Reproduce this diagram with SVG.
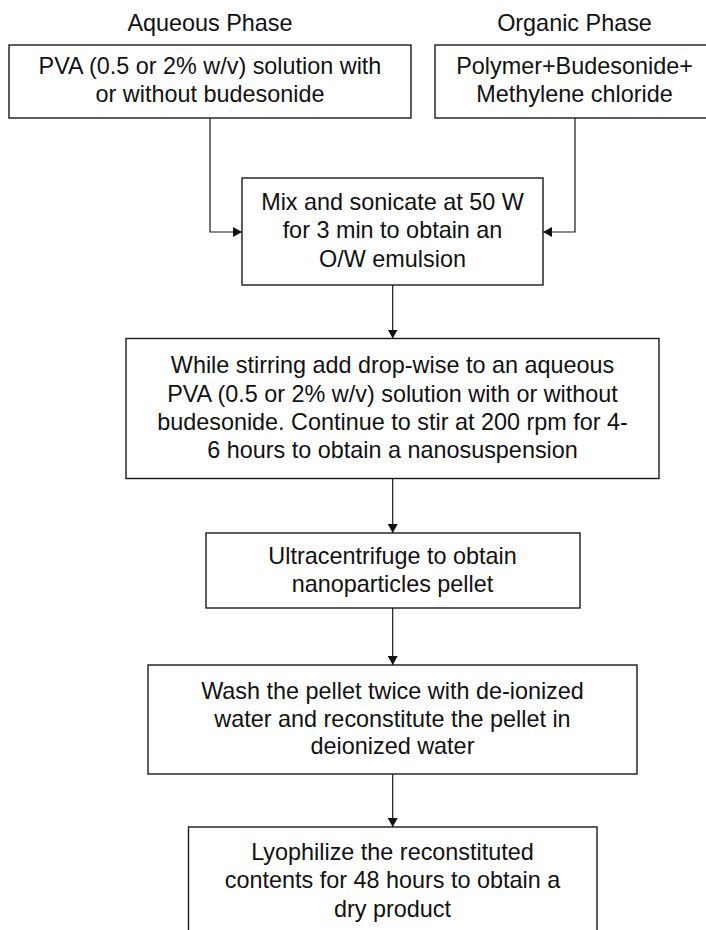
<svg xmlns="http://www.w3.org/2000/svg" width="706" height="930" viewBox="0 0 706 930">
<style>
.box{fill:#fff;stroke:#1a1a1a;stroke-width:1.4}
.t{font-family:"Liberation Sans",Arial,Helvetica,sans-serif;font-size:23.4px;fill:#111;text-anchor:middle}
.c{fill:none;stroke:#1a1a1a;stroke-width:1.2}
</style>
<defs>
<marker id="ah" viewBox="0 0 9 10" refX="9" refY="5" markerWidth="9" markerHeight="10" markerUnits="userSpaceOnUse" orient="auto">
<path d="M0,0 L9,5 L0,10 Z" fill="#111"/>
</marker>
</defs>
<rect width="706" height="930" fill="#fff"/>
<text class="t" x="210" y="31">Aqueous Phase</text>
<text class="t" x="574.5" y="31">Organic Phase</text>
<g id="aqueous">
<rect class="box" x="9" y="45" width="402" height="73"/>
<text class="t" x="210" y="74">PVA (0.5 or 2% w/v) solution with</text>
<text class="t" x="210" y="102">or without budesonide</text>
</g>
<g id="organic">
<rect class="box" x="435" y="45" width="280" height="73"/>
<text class="t" x="574.5" y="74">Polymer+Budesonide+</text>
<text class="t" x="574.5" y="102">Methylene chloride</text>
</g>
<g id="mix">
<rect class="box" x="242" y="178" width="301" height="107"/>
<text class="t" x="392.5" y="210">Mix and sonicate at 50 W</text>
<text class="t" x="392.5" y="238">for 3 min to obtain an</text>
<text class="t" x="392.5" y="266.5">O/W emulsion</text>
</g>
<g id="stir">
<rect class="box" x="126" y="338.5" width="533" height="140"/>
<text class="t" x="392.5" y="373">While stirring add drop-wise to an aqueous</text>
<text class="t" x="392.5" y="401.5">PVA (0.5 or 2% w/v) solution with or without</text>
<text class="t" x="392.5" y="430">budesonide. Continue to stir at 200 rpm for 4-</text>
<text class="t" x="392.5" y="458">6 hours to obtain a nanosuspension</text>
</g>
<g id="ultra">
<rect class="box" x="206" y="533" width="374" height="75"/>
<text class="t" x="392.5" y="564">Ultracentrifuge to obtain</text>
<text class="t" x="392.5" y="592">nanoparticles pellet</text>
</g>
<g id="wash">
<rect class="box" x="148" y="665" width="489" height="109"/>
<text class="t" x="392.5" y="698.5">Wash the pellet twice with de-ionized</text>
<text class="t" x="392.5" y="726.5">water and reconstitute the pellet in</text>
<text class="t" x="392.5" y="754">deionized water</text>
</g>
<g id="lyophilize">
<rect class="box" x="188.5" y="827" width="408.5" height="120"/>
<text class="t" x="392.5" y="860">Lyophilize the reconstituted</text>
<text class="t" x="392.5" y="888">contents for 48 hours to obtain a</text>
<text class="t" x="392.5" y="916.5">dry product</text>
</g>
<g id="connectors">
<path class="c" d="M210,118 V232 H242" marker-end="url(#ah)"/>
<path class="c" d="M575,118 V232 H543" marker-end="url(#ah)"/>
<path class="c" d="M392.7,285 V338.5" marker-end="url(#ah)"/>
<path class="c" d="M392.7,478.5 V533" marker-end="url(#ah)"/>
<path class="c" d="M392.7,608 V665" marker-end="url(#ah)"/>
<path class="c" d="M392.7,774 V827" marker-end="url(#ah)"/>
</g>
</svg>
